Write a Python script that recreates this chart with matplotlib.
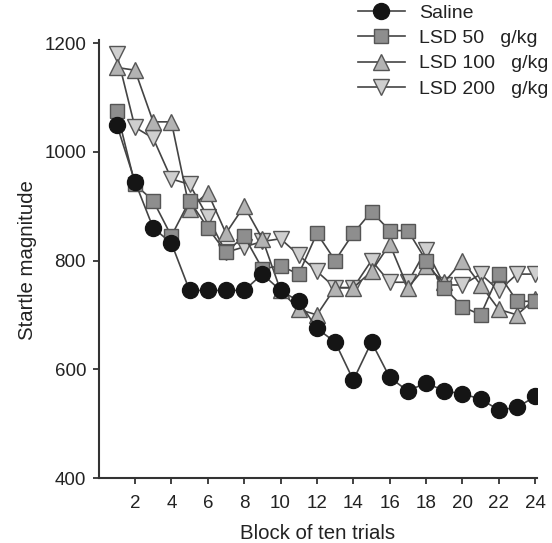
#!/usr/bin/env python3
# -*- coding: utf-8 -*-

import numpy as np
import matplotlib
matplotlib.use("Agg")
import matplotlib.pyplot as plt

# blocks of ten trials
blocks = np.arange(1, 25)

saline = [1050, 945, 860, 832, 745, 745, 745, 745, 775, 745, 725, 675,
          650, 580, 650, 585, 560, 575, 560, 555, 545, 525, 530, 550]
lsd50 = [1075, 940, 910, 845, 910, 860, 815, 845, 785, 790, 775, 850,
         800, 850, 890, 855, 855, 800, 750, 715, 700, 775, 725, 725]
lsd100 = [1155, 1150, 1055, 1055, 895, 925, 850, 900, 840, 745, 710, 700,
          750, 750, 780, 830, 750, 790, 760, 800, 755, 710, 700, 730]
lsd200 = [1180, 1045, 1025, 950, 940, 880, 815, 825, 835, 840, 810, 780,
          750, 750, 800, 760, 760, 820, 755, 755, 775, 745, 775, 775]

labels = ["Saline", "LSD 50   g/kg", "LSD 100   g/kg", "LSD 200   g/kg"]
xticks = list(range(2, 25, 2))
yticks = [400, 600, 800, 1000, 1200]

plt.rcParams["font.family"] = ["Liberation Sans", "DejaVu Sans"]

fig = plt.figure(figsize=(5.52, 5.43), dpi=100)
ax = fig.add_axes([0.1786, 0.1197, 0.7944, 0.8011])

line_col = "#444444"
edge_col = "#555555"
styles = [
    dict(marker="o", ms=11.5, mfc="#151515", mec="#151515"),
    dict(marker="s", ms=10.5, mfc="#8e8e8e", mec=edge_col),
    dict(marker="^", ms=12, mfc="#b3b3b3", mec=edge_col),
    dict(marker="v", ms=12, mfc="#cfcfcf", mec=edge_col),
]
series = [saline, lsd50, lsd100, lsd200]
# draw in reverse so saline ends on top, legend in original order
handles = [None] * 4
for i in [3, 2, 1, 0]:
    h, = ax.plot(blocks, series[i], color=line_col, lw=1.2, mew=1.0,
                 label=labels[i], zorder=3 + (3 - i), **styles[i])
    handles[i] = h

ax.set_xlim(0, 24.1)
ax.set_ylim(400, 1200)
ax.set_xticks(xticks)
ax.set_yticks(yticks)
ax.tick_params(labelsize=13.5, direction="out", length=4, width=1.3,
               colors="#333333", labelcolor="#222222", pad=5)
ax.tick_params(axis="x", pad=8)
for s in ["top", "right"]:
    ax.spines[s].set_visible(False)
for s in ["left", "bottom"]:
    ax.spines[s].set_linewidth(1.5)
    ax.spines[s].set_color("#333333")
ax.spines["left"].set_bounds(400, 1205)

ax.set_xlabel("Block of ten trials", fontsize=14.7, color="#222222", labelpad=9)
ax.set_ylabel("Startle magnitude", fontsize=14.7, color="#222222", labelpad=5)

leg = ax.legend(handles=handles, labels=labels, loc="upper left",
                bbox_to_anchor=(358 / 552, 1 - 4 / 543),
                bbox_transform=fig.transFigure, frameon=False,
                fontsize=14, handlelength=2.4, handletextpad=0.75,
                labelspacing=0.4, borderpad=0, borderaxespad=0)
for t in leg.get_texts():
    t.set_color("#222222")

fig.savefig("out.png", dpi=100)
plt.close(fig)
